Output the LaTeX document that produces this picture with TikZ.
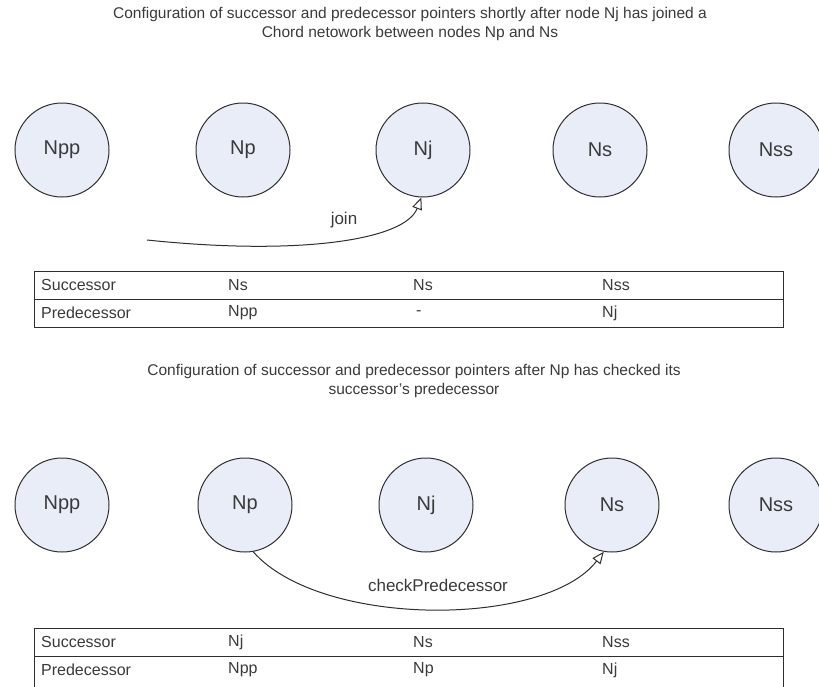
\documentclass[tikz,border=0pt]{standalone}
\usepackage{fontspec}
\setmainfont{Liberation Sans}
\usetikzlibrary{arrows.meta}
\definecolor{peerfill}{HTML}{E9EDF8}
\definecolor{inkgray}{HTML}{3A3A3A}
\definecolor{linegray}{HTML}{2E2E2E}
\tikzset{
  peer/.style={circle, draw=linegray, line width=1pt, fill=peerfill,
    minimum size=94pt, inner sep=0pt, font=\fontsize{20}{22}\selectfont, text=inkgray},
  caption/.style={align=center, font=\fontsize{15.5}{19}\selectfont, text=inkgray},
  cell/.style={anchor=west, inner sep=0pt, font=\fontsize{16}{18}\selectfont, text=inkgray},
  tablebox/.style={draw=linegray, line width=1pt},
  msg/.style={draw=linegray, line width=1pt,
    -{Triangle[open, length=12pt, width=10pt]}},
  msglabel/.style={font=\fontsize{17}{19}\selectfont, text=inkgray}
}
\begin{document}
\begin{tikzpicture}[x=1pt, y=-1pt]
\useasboundingbox (0,0) rectangle (819,686);

% ---- first stage: Nj has just joined ----
\node[caption] (cap1) at (410,24)
  {Configuration of successor and predecessor pointers shortly after node Nj has joined a\\
   Chord netowork between nodes Np and Ns};

\node[peer] (app)  at (62,150)  {Npp};
\node[peer] (ap)   at (243,150) {Np};
\node[peer] (aj)   at (423,150) {Nj};
\node[peer] (as)   at (600,150) {Ns};
\node[peer] (ass)  at (776,150) {Nss};

\coordinate (joinstart) at (147,240);
\draw[msg] (joinstart) .. controls (300,256) and (405,240) .. (aj.-92);
\node[msglabel] (joinlbl) at (344,220) {join};

\draw[tablebox] (34,271) rectangle (783,327);
\draw[tablebox] (34,299) -- (783,299);
\node[cell] (a11) at (41,285)  {Successor};
\node[cell] (a12) at (228,285) {Ns};
\node[cell] (a13) at (413,285) {Ns};
\node[cell] (a14) at (602,285) {Nss};
\node[cell] (a21) at (41,313)  {Predecessor};
\node[cell] (a22) at (228,313) {Npp};
\node[cell] (a23) at (416,313) {-};
\node[cell] (a24) at (602,313) {Nj};

% ---- second stage: Np has run checkPredecessor ----
\node[caption] (cap2) at (414,381)
  {Configuration of successor and predecessor pointers after Np has checked its\\
   successor’s predecessor};

\node[peer] (bpp)  at (62,505)  {Npp};
\node[peer] (bp)   at (245,505) {Np};
\node[peer] (bj)   at (426,505) {Nj};
\node[peer] (bs)   at (612,505) {Ns};
\node[peer] (bss)  at (776,505) {Nss};

\draw[msg] (bp.-80) .. controls (320,628) and (545,628) .. (bs.-100);
\node[msglabel] (checklbl) at (438,585) {checkPredecessor};

\draw[tablebox] (34,628) -- (34,690) (783,628) -- (783,690);
\draw[tablebox] (34,628) -- (783,628);
\draw[tablebox] (34,656) -- (783,656);
\node[cell] (b11) at (41,642)  {Successor};
\node[cell] (b12) at (228,642) {Nj};
\node[cell] (b13) at (413,642) {Ns};
\node[cell] (b14) at (602,642) {Nss};
\node[cell] (b21) at (41,670)  {Predecessor};
\node[cell] (b22) at (228,670) {Npp};
\node[cell] (b23) at (413,670) {Np};
\node[cell] (b24) at (602,670) {Nj};
\end{tikzpicture}
\end{document}
